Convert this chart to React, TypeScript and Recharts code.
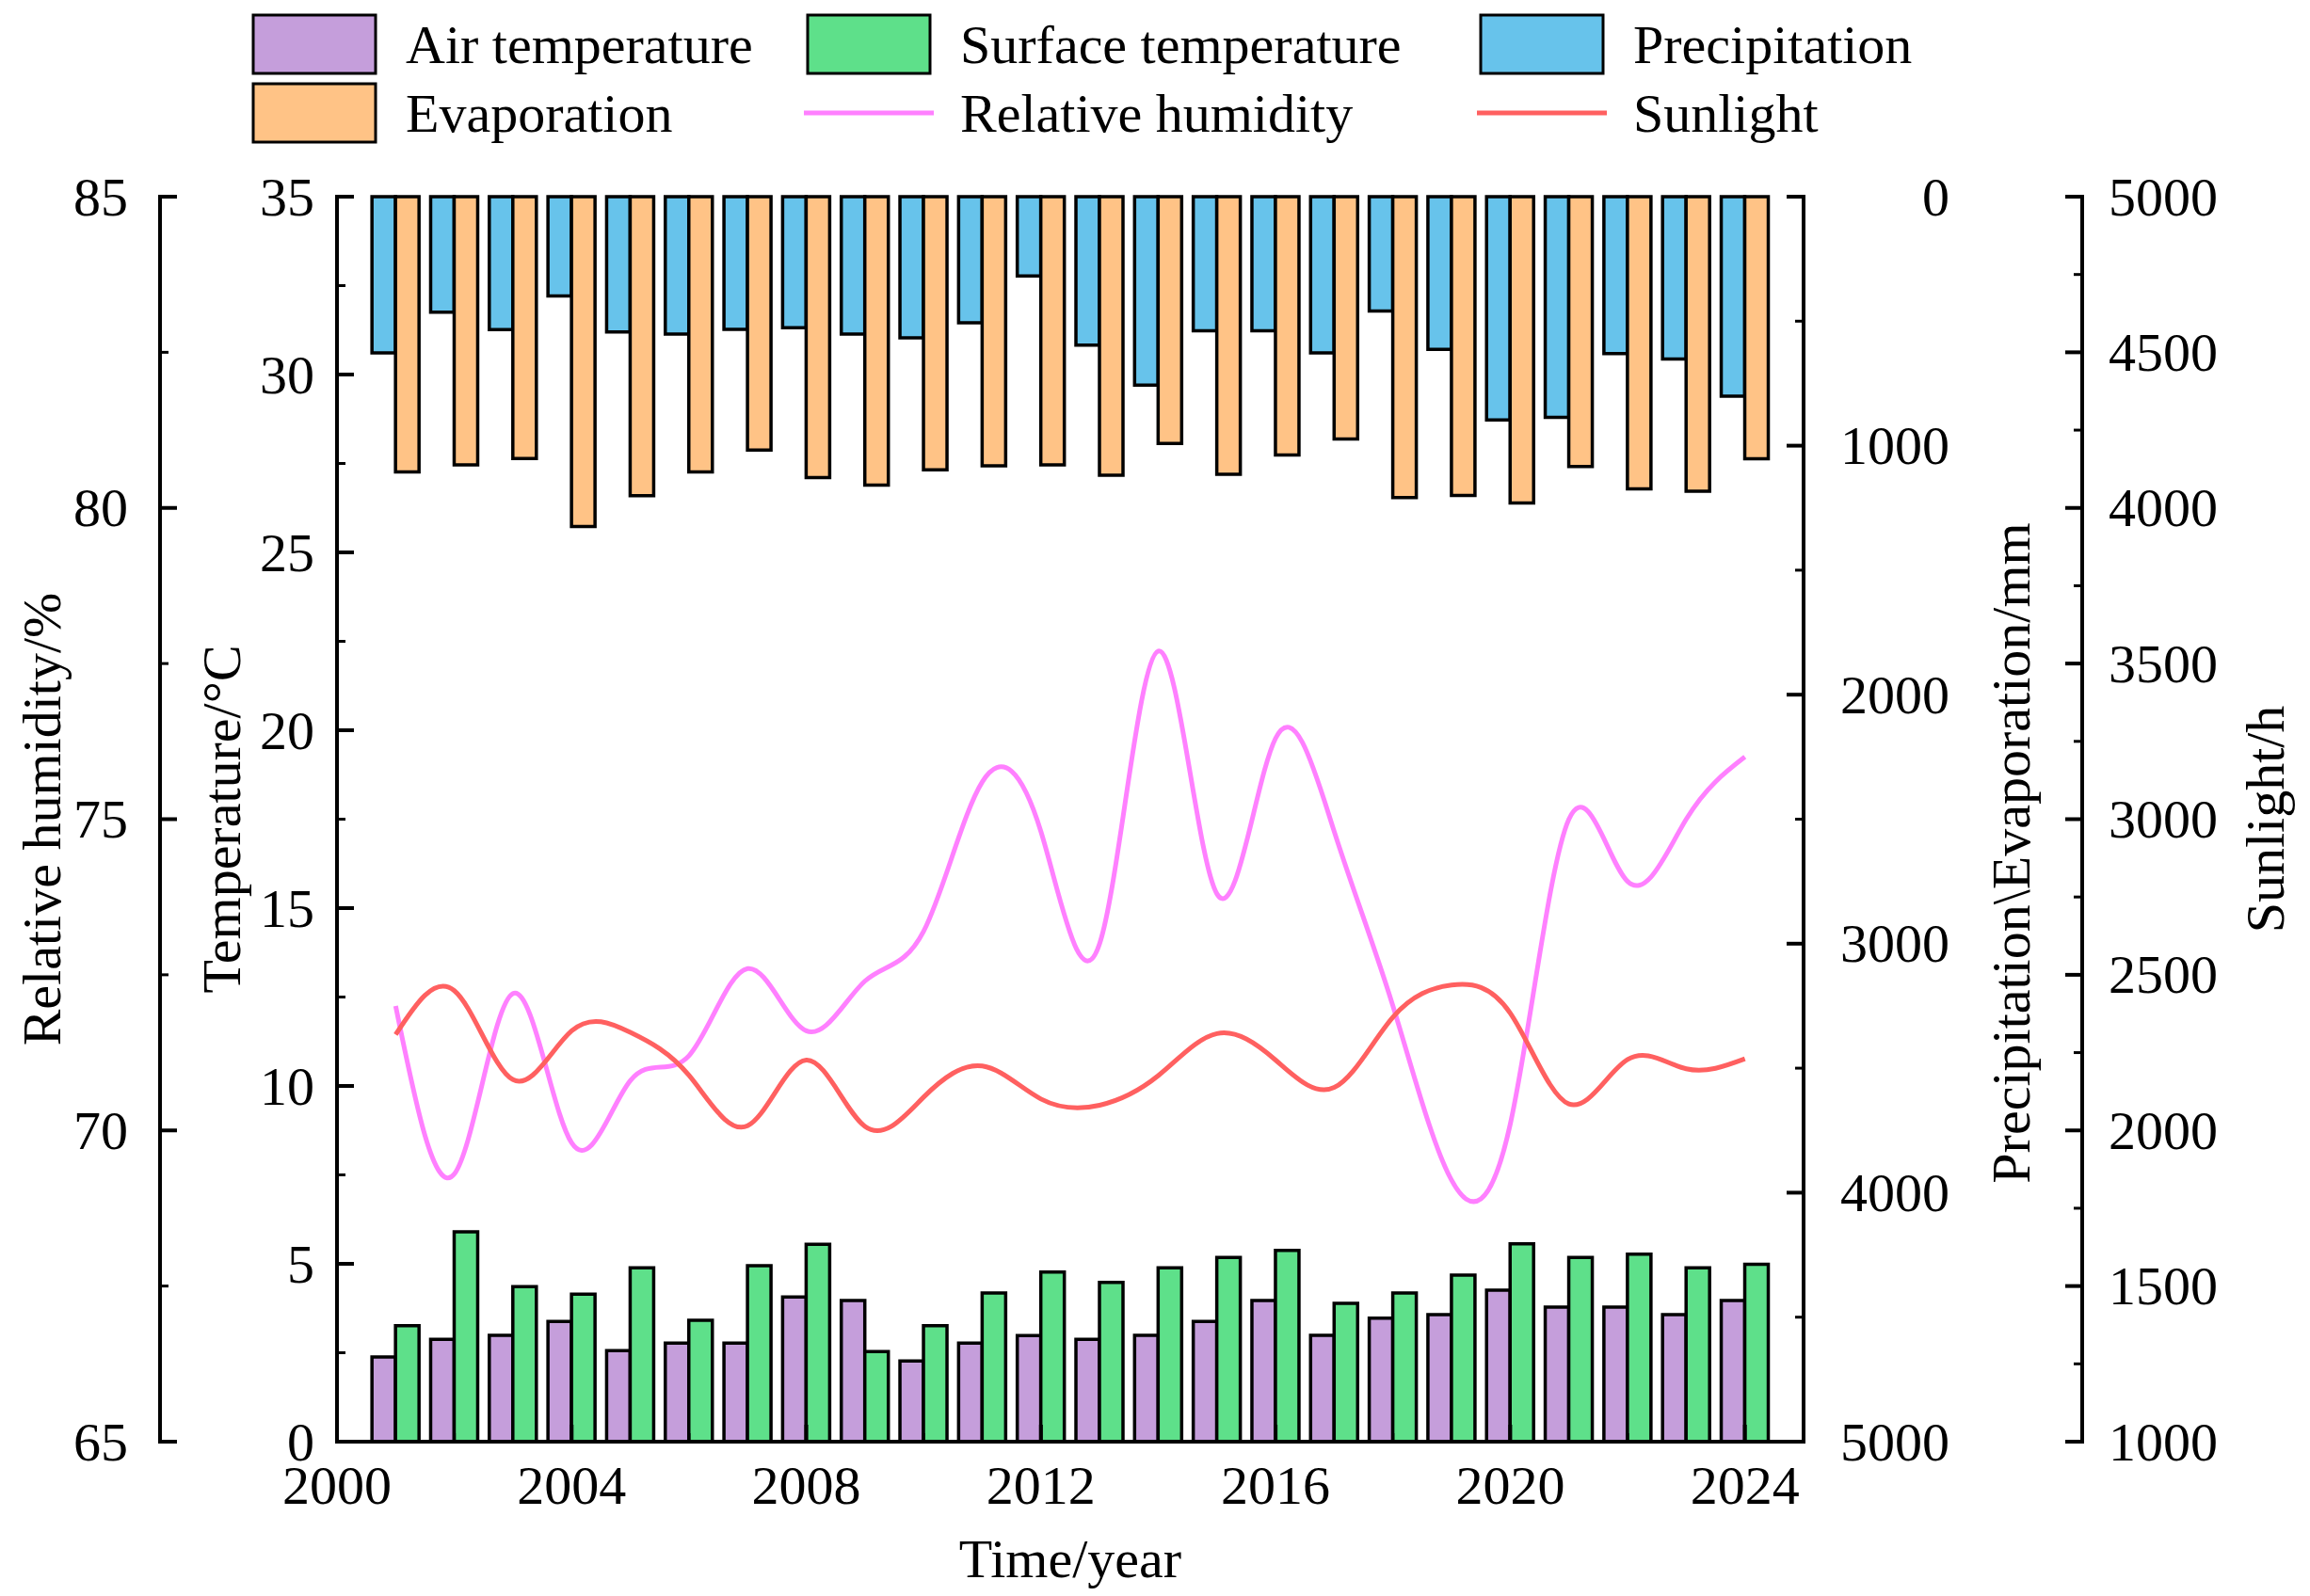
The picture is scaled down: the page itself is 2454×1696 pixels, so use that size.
import { ComposedChart, Bar, Line, XAxis, YAxis } from 'recharts';

// yearly climate record
const years = [2001, 2002, 2003, 2004, 2005, 2006, 2007, 2008, 2009, 2010, 2011, 2012,
  2013, 2014, 2015, 2016, 2017, 2018, 2019, 2020, 2021, 2022, 2023, 2024];
const airTemperature = [2.38, 2.88, 2.99, 3.38, 2.56, 2.77, 2.77, 4.07, 3.97, 2.27, 2.77, 2.98,
  2.88, 2.99, 3.38, 3.97, 2.99, 3.47, 3.57, 4.26, 3.78, 3.78, 3.57, 3.97];
const surfaceTemperature = [3.26, 5.9, 4.36, 4.15, 4.89, 3.41, 4.95, 5.55, 2.53, 3.26, 4.18, 4.77,
  4.48, 4.89, 5.18, 5.38, 3.89, 4.18, 4.68, 5.56, 5.18, 5.27, 4.89, 4.99];
const precipitation = [627, 464, 534, 399, 543, 552, 533, 526, 552, 567, 506, 318,
  596, 757, 539, 539, 627, 459, 613, 897, 886, 630, 652, 801];
const evaporation = [1105, 1077, 1052, 1325, 1201, 1105, 1018, 1128, 1158, 1097, 1081, 1077,
  1119, 991, 1115, 1037, 973, 1208, 1200, 1230, 1084, 1173, 1183, 1053];
const relativeHumidity = [72.0, 69.3, 72.2, 69.8, 70.8, 71.2, 72.6, 71.6, 72.4, 73.2, 75.6, 74.8,
  73.0, 77.7, 73.8, 76.3, 74.8, 72.0, 69.2, 70.1, 75.0, 74.0, 75.0, 76.0];
const sunlight = [2308, 2449, 2163, 2320, 2315, 2177, 2015, 2226, 2013, 2107, 2207, 2101,
  2081, 2176, 2311, 2226, 2138, 2364, 2467, 2377, 2085, 2228, 2198, 2230];

// ticks (all) and the labelled ones
const yearTicks = [2000, 2002, 2004, 2006, 2008, 2010, 2012, 2014, 2016, 2018, 2020, 2022, 2024];
const yearLabels = [2000, 2004, 2008, 2012, 2016, 2020, 2024];
const humidityTicks = [65, 67.5, 70, 72.5, 75, 77.5, 80, 82.5, 85];
const humidityLabels = [65, 70, 75, 80, 85];
const temperatureTicks = [0, 2.5, 5, 7.5, 10, 12.5, 15, 17.5, 20, 22.5, 25, 27.5, 30, 32.5, 35];
const temperatureLabels = [0, 5, 10, 15, 20, 25, 30, 35];
const waterTicks = [0, 500, 1000, 1500, 2000, 2500, 3000, 3500, 4000, 4500, 5000];
const waterLabels = [0, 1000, 2000, 3000, 4000, 5000];
const sunlightTicks = [1000, 1250, 1500, 1750, 2000, 2250, 2500, 2750, 3000, 3250, 3500, 3750,
  4000, 4250, 4500, 4750, 5000];
const sunlightLabels = [1000, 1500, 2000, 2500, 3000, 3500, 4000, 4500, 5000];

const data = years.map((year, i) => ({
  year,
  air: airTemperature[i],
  surface: surfaceTemperature[i],
  precip: precipitation[i],
  evap: evaporation[i],
  humidity: relativeHumidity[i],
  sun: sunlight[i],
}));

const COLORS = {
  air: '#C59EDB',
  surface: '#5EE08A',
  precip: '#67C3EB',
  evap: '#FFC386',
  humidity: '#FF80FF',
  sunlight: '#FF6060',
};

const FONT = '"Liberation Serif", "Times New Roman", serif';
const FS = 58;
const AXIS = { stroke: '#000', strokeWidth: 4, strokeLinecap: 'square' as const };

type Side = 'left' | 'right' | 'bottom' | 'top';

// tick marks point into the plot, labels sit outside
const axisTick = (side: Side, labelled: number[], gap: number, anchor: 'start' | 'middle' | 'end') =>
  (props: any) => {
    const { x, y, payload } = props;
    const value = payload.value;
    const major = labelled.includes(value);
    const len = major ? 18 : 9;
    const dx = side === 'left' ? len : side === 'right' ? -len : 0;
    const dy = side === 'bottom' ? -len : side === 'top' ? len : 0;
    let label = null;
    if (major && side !== 'top') {
      const lx = side === 'left' ? x - gap : side === 'right' ? x + gap : x;
      const ly = side === 'bottom' ? y + gap : y;
      label = (
        <text x={lx} y={ly} textAnchor={anchor} dominantBaseline="central"
          fontFamily={FONT} fontSize={FS} fill="#000">
          {value}
        </text>
      );
    }
    return (
      <g>
        <line x1={x} y1={y} x2={x + dx} y2={y + dy} stroke="#000" strokeWidth={major ? 4 : 3} />
        {label}
      </g>
    );
  };

const verticalTitle = (text: string, shiftX: number, shiftY = 0) => (props: any) => {
  const vb = props.viewBox;
  const x = vb.x + vb.width / 2 + shiftX;
  const y = vb.y + vb.height / 2 + shiftY;
  return (
    <text x={x} y={y} transform={`rotate(-90 ${x} ${y})`} textAnchor="middle"
      dominantBaseline="central" fontFamily={FONT} fontSize={FS} fill="#000">
      {text}
    </text>
  );
};

const bottomTitle = (text: string, shiftY: number) => (props: any) => {
  const vb = props.viewBox;
  return (
    <text x={vb.x + vb.width / 2} y={vb.y + shiftY} textAnchor="middle" dominantBaseline="central"
      fontFamily={FONT} fontSize={FS} fill="#000">
      {text}
    </text>
  );
};

const legendItems = [
  { name: 'Air temperature', color: COLORS.air, kind: 'bar' },
  { name: 'Surface temperature', color: COLORS.surface, kind: 'bar' },
  { name: 'Precipitation', color: COLORS.precip, kind: 'bar' },
  { name: 'Evaporation', color: COLORS.evap, kind: 'bar' },
  { name: 'Relative humidity', color: COLORS.humidity, kind: 'line' },
  { name: 'Sunlight', color: COLORS.sunlight, kind: 'line' },
];
const legendCols = [269, 858, 1573];
const legendRows = [16, 89];

function LegendOverlay() {
  return (
    <svg width={2454} height={170} style={{ position: 'absolute', left: 0, top: 0 }}>
      {legendItems.map((item, i) => {
        const x = legendCols[i % 3];
        const y = legendRows[Math.floor(i / 3)];
        return (
          <g key={item.name}>
            {item.kind === 'bar' ? (
              <rect x={x} y={y} width={130} height={62} fill={item.color} stroke="#000" strokeWidth={3} />
            ) : (
              <line x1={x - 4} y1={y + 31} x2={x + 134} y2={y + 31} stroke={item.color} strokeWidth={5} />
            )}
            <text x={x + 162} y={y + 31} dominantBaseline="central" fontFamily={FONT} fontSize={FS} fill="#000">
              {item.name}
            </text>
          </g>
        );
      })}
    </svg>
  );
}

// axis ids sort so that l1/r1 sit next to the plot and l2/r2 outside them
export default function App() {
  return (
    <div style={{ position: 'absolute', left: 0, top: 0, width: 2454, height: 1696, background: '#fff' }}>
      <ComposedChart width={2454} height={1696} data={data} barGap={0}
        margin={{ top: 209, right: 42, bottom: 0, left: 0 }}>
        <XAxis xAxisId="x" type="number" dataKey="year" domain={[2000, 2025]} ticks={yearTicks}
          interval={0} height={164} tickSize={0} tickMargin={0} tickLine={false} axisLine={AXIS}
          tick={axisTick('bottom', yearLabels, 46, 'middle')} label={bottomTitle('Time/year', 124)} />
        <XAxis xAxisId="top" orientation="top" type="number" dataKey="year" domain={[2000, 2025]}
          ticks={yearTicks} interval={0} height={0} tickSize={0} tickMargin={0} tickLine={false}
          axisLine={AXIS} tick={axisTick('top', yearLabels, 0, 'middle')} />

        <YAxis yAxisId="l1" orientation="left" width={188} domain={[0, 35]} ticks={temperatureTicks}
          interval={0} tickSize={0} tickMargin={0} tickLine={false} axisLine={AXIS}
          tick={axisTick('left', temperatureLabels, 24, 'end')}
          label={verticalTitle('Temperature/°C', -29)} />
        <YAxis yAxisId="l2" orientation="left" width={170} domain={[65, 85]} ticks={humidityTicks}
          interval={0} tickSize={0} tickMargin={0} tickLine={false} axisLine={AXIS}
          tick={axisTick('left', humidityLabels, 34, 'end')}
          label={verticalTitle('Relative humidity/%', -41)} />
        <YAxis yAxisId="r1" orientation="right" width={296} domain={[0, 5000]} reversed
          ticks={waterTicks} interval={0} tickSize={0} tickMargin={0} tickLine={false} axisLine={AXIS}
          tick={axisTick('right', waterLabels, 155, 'end')}
          label={verticalTitle('Precipitation\\Evaporation/mm', 72, 36)} />
        <YAxis yAxisId="r2" orientation="right" width={200} domain={[1000, 5000]} ticks={sunlightTicks}
          interval={0} tickSize={0} tickMargin={0} tickLine={false} axisLine={AXIS}
          tick={axisTick('right', sunlightLabels, 28, 'start')}
          label={verticalTitle('Sunlight/h', 94)} />

        <Bar xAxisId="top" yAxisId="r1" dataKey="precip" name="Precipitation" fill={COLORS.precip}
          stroke="#000" strokeWidth={3.5} barSize={25} isAnimationActive={false} />
        <Bar xAxisId="top" yAxisId="r1" dataKey="evap" name="Evaporation" fill={COLORS.evap}
          stroke="#000" strokeWidth={3.5} barSize={25} isAnimationActive={false} />
        <Bar xAxisId="x" yAxisId="l1" dataKey="air" name="Air temperature" fill={COLORS.air}
          stroke="#000" strokeWidth={3.5} barSize={25} isAnimationActive={false} />
        <Bar xAxisId="x" yAxisId="l1" dataKey="surface" name="Surface temperature" fill={COLORS.surface}
          stroke="#000" strokeWidth={3.5} barSize={25} isAnimationActive={false} />

        <Line xAxisId="x" yAxisId="l2" type="natural" dataKey="humidity" name="Relative humidity"
          stroke={COLORS.humidity} strokeWidth={5} dot={false} isAnimationActive={false} />
        <Line xAxisId="x" yAxisId="r2" type="natural" dataKey="sun" name="Sunlight"
          stroke={COLORS.sunlight} strokeWidth={5} dot={false} isAnimationActive={false} />
      </ComposedChart>
      <LegendOverlay />
    </div>
  );
}
